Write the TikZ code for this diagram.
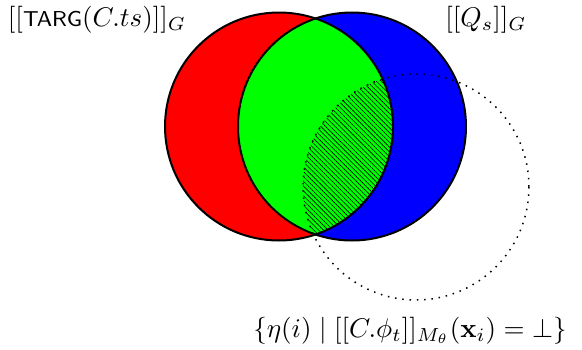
\documentclass[tikz,border=0pt]{standalone}
\usetikzlibrary{patterns.meta}
\begin{document}
\begin{tikzpicture}[x=1pt,y=-1pt,
  outline/.style={draw=black,line width=2pt},
  dotcirc/.style={draw=black,line width=1.5pt,dash pattern=on 1.5pt off 5.8pt},
  lab/.style={anchor=base,scale=2.7,inner sep=0pt}]
\useasboundingbox (0,0) rectangle (582,349);
\coordinate (R) at (279,126.5);
\coordinate (B) at (352,126.5);
\coordinate (D) at (416,187);
\fill[red] (R) circle[radius=114];
\fill[blue] (B) circle[radius=114];
\begin{scope}
  \clip (R) circle[radius=114];
  \fill[green] (B) circle[radius=114];
  \clip (B) circle[radius=114];
  \fill[pattern={Lines[angle=-45,distance=3.4pt,line width=0.6pt]}] (D) circle[radius=113];
\end{scope}
\draw[outline] (R) circle[radius=114];
\draw[outline] (B) circle[radius=114];
\draw[dotcirc] (D) circle[radius=113];
\node[lab] (l1) at (97,26) {$[[\textsf{\footnotesize TARG}(C.ts)]]_G$};
\node[lab] (l2) at (486,26) {$[[Q_s]]_G$};
\node[lab] (l3) at (410,337) {$\{\eta(i)\mid[[C.\phi_t]]_{M_\theta}(\mathbf{x}_i)=\bot\}$};
\end{tikzpicture}
\end{document}
